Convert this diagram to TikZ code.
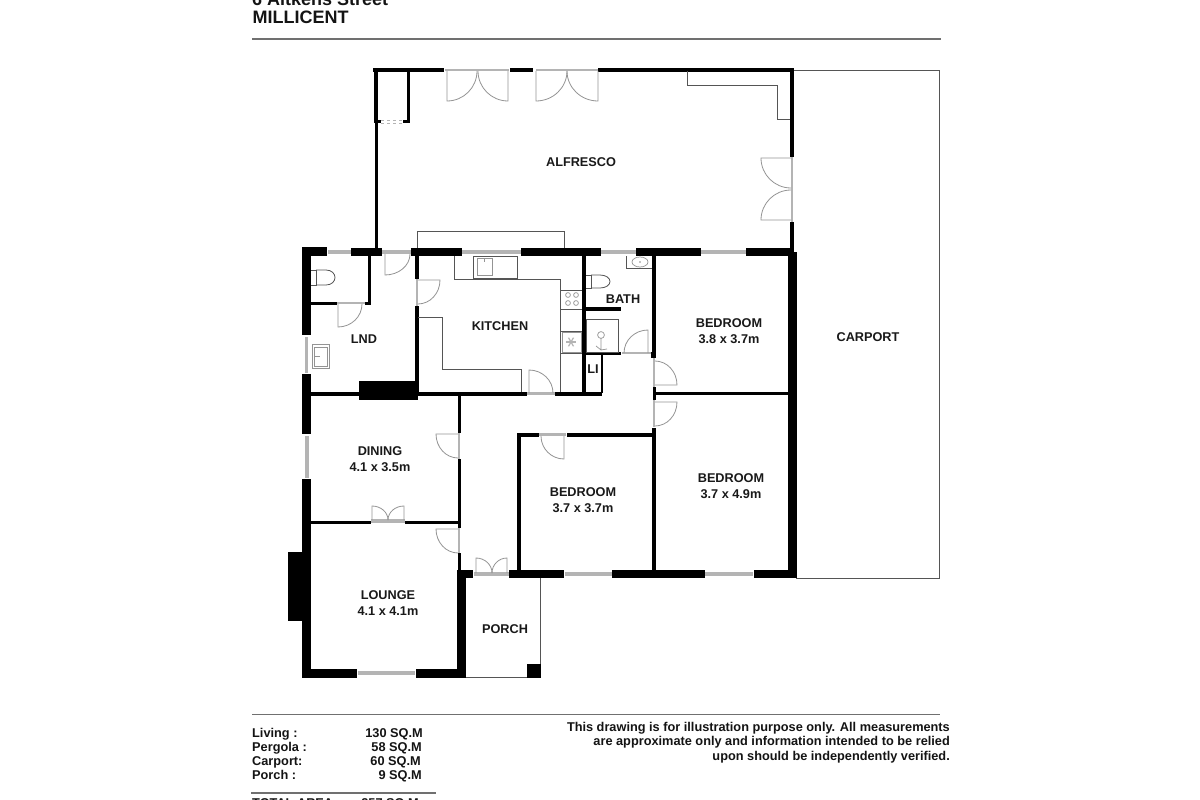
\documentclass[tikz,border=0pt]{standalone}
\usepackage{fontspec}
\setmainfont{Liberation Sans}
\newcommand{\wallbox}[4]{\fill[black] (#1,#2) rectangle (#3,#4);}
\newcommand{\glassbox}[4]{\fill[glasscol] (#1,#2) rectangle (#3,#4);}
% door swing: hinge, open end of leaf, closed end on the wall
\newcommand{\doorswing}[6]{%
  \pgfmathsetmacro{\cax}{#3+0.5523*(#5-#1)}%
  \pgfmathsetmacro{\cay}{#4+0.5523*(#6-#2)}%
  \pgfmathsetmacro{\cbx}{#5+0.5523*(#3-#1)}%
  \pgfmathsetmacro{\cby}{#6+0.5523*(#4-#2)}%
  \draw[doorleaf] (#1,#2) -- (#3,#4) .. controls (\cax,\cay) and (\cbx,\cby) .. (#5,#6);}
\definecolor{glasscol}{HTML}{B4B4B4}
\definecolor{thincol}{HTML}{555555}
\definecolor{doorcol}{HTML}{949494}
\definecolor{rulecol}{HTML}{707070}
\tikzset{
  fixture/.style={draw=thincol,line width=.8pt},
  doorleaf/.style={draw=doorcol,line width=.8pt},
  fitting/.style={draw=doorcol,line width=.7pt},
  lbl/.style={font=\bfseries\fontsize{12.7}{16}\selectfont,align=center,inner sep=0pt,text=black!90},
  foot/.style={font=\bfseries\fontsize{12.75}{14}\selectfont,inner sep=0pt,text=black!92},
  rulerline/.style={draw=rulecol,line width=1.2pt}
}
\begin{document}
\begin{tikzpicture}[x=1pt,y=-1pt]
\clip (0,0) rectangle (1200,800);
\fill[white] (0,0) rectangle (1200,800);
% header
\node[foot,anchor=base west,font=\bfseries\fontsize{18}{20}\selectfont] (addr) at (252,5.5) {6 Aitkens Street};
\node[foot,anchor=base west,font=\bfseries\fontsize{18}{20}\selectfont] (town) at (252.5,23.7) {MILLICENT};
\draw[rulerline] (252,39) -- (941,39);
% carport
\draw[fixture] (794,70) -- (939,70) -- (939,578) -- (796,578);
% porch
\draw[fixture] (466,677.5) -- (540,677.5) -- (540,578);
\wallbox{527}{664}{541}{678}
% alfresco walls
\wallbox{374}{68}{378}{123}
\wallbox{375}{120}{378}{248}
\wallbox{373}{68}{444}{72}
\wallbox{407}{70}{410}{123}
\wallbox{403}{120}{410}{123}
\wallbox{378}{120}{381}{123}
\draw[glasscol,line width=.7pt,dashed] (381,120.5) -- (403,120.5) (381,123) -- (403,123);
\wallbox{510}{68}{533}{72}
\wallbox{598}{68}{794}{72}
\wallbox{790}{68}{794}{157}
\wallbox{790}{222}{794}{252}
% top french doors
\glassbox{445}{69}{509}{71}
\glassbox{536}{69}{598}{71}
\doorswing{447}{71}{447}{101}{477}{71}
\doorswing{508}{71}{508}{101}{478}{71}
\doorswing{536}{71}{536}{101}{567}{71}
\doorswing{598}{71}{598}{101}{567}{71}
% right french doors
\glassbox{791}{157}{793}{222}
\doorswing{791}{158}{761}{158}{791}{188}
\doorswing{791}{220}{761}{220}{791}{190}
% counter alfresco corner
\draw[fixture] (687,71) -- (687,85) -- (777,85) -- (777,119) -- (790,119);
% bench above kitchen
\draw[fixture] (417,248) -- (417,231) -- (564,231) -- (564,248);
% north wall of house
\wallbox{302}{247}{327}{256}
\wallbox{351}{248}{382}{256}
\wallbox{411}{248}{462}{256}
\wallbox{521}{248}{601}{256}
\wallbox{636}{248}{701}{256}
\wallbox{746}{248}{792}{256}
\glassbox{328}{250}{351}{254}
\glassbox{382}{250}{411}{254}
\glassbox{462}{250}{521}{254}
\glassbox{601}{250}{636}{254}
\glassbox{701}{250}{746}{254}
% west wall
\wallbox{302}{247}{311}{335}
\wallbox{302}{374}{311}{434}
\wallbox{302}{479}{311}{678}
\wallbox{288}{552}{303}{621}
\glassbox{305}{337}{308}{373}
\glassbox{305}{436}{309}{478}
% east wall
\wallbox{788}{252}{797}{578}
% south walls
\wallbox{303}{669}{357}{678}
\wallbox{416}{669}{466}{678}
\glassbox{358}{671}{415}{675}
\wallbox{457}{570}{466}{678}
\wallbox{457}{570}{473}{578}
\wallbox{509}{570}{564}{578}
\wallbox{612}{570}{705}{578}
\wallbox{754}{570}{797}{578}
\glassbox{565}{572}{612}{576}
\glassbox{705}{572}{753}{576}
% WC
\wallbox{368}{256}{371}{305}
\wallbox{311}{302}{337}{305}
\wallbox{365}{302}{371}{305}
\glassbox{337}{302}{365}{304}
\doorswing{338}{304}{338}{327}{362}{304}
\doorswing{385}{254}{385}{275}{410}{254}
% kitchen west wall
\wallbox{415}{256}{419}{279}
\wallbox{415}{306}{419}{395}
\glassbox{416}{279}{418}{306}
\doorswing{418}{280}{440}{280}{418}{304}
% chimney LND
\wallbox{359}{381}{418}{400}
\wallbox{311}{392}{359}{395.5}
\wallbox{418}{392}{527}{395.5}
\wallbox{555}{392}{602}{395.5}
\glassbox{527}{392}{555}{395}
\doorswing{529}{393}{529}{370}{553}{393}
% kitchen fixtures
\draw[fixture] (454,256) -- (454,279) -- (560,279) -- (560,392);
\draw[fixture] (418,317) -- (442,317) -- (442,369) -- (521,369) -- (521,392);
\draw[fixture,fill=white] (473,256) rectangle (517,278);
\draw[fitting] (477,258) rectangle (492,275);
\draw[fitting] (484,258) -- (484,262);
\draw[fixture] (560,290) -- (582,290) (560,309) -- (582,309) (560,331) -- (582,331) (560,353) -- (582,353);
\foreach \px/\py in {568/295,576/295,568/303,576/303}
  \draw[fitting] (\px,\py) circle[radius=2.4];
\draw[fitting] (562,332) rectangle (581,352);
\foreach \ang in {0,60,...,300}
  \draw[glasscol,line width=1.2pt] (571,342) -- ++(\ang:5);
% bath walls
\wallbox{582}{256}{586}{393}
\wallbox{586}{307}{621}{311}
\wallbox{586}{352}{621}{355}
\wallbox{601}{355}{603}{393}
\wallbox{652}{256}{656}{358}
\wallbox{651}{352}{656}{358}
\glassbox{622}{352}{651}{354}
\doorswing{648}{353}{648}{330}{624}{353}
\draw[fixture] (626,256) -- (626,268) -- (652,268);
\draw[fitting] (640,262) ellipse[x radius=8,y radius=5];
\fill[black] (640,262) circle[radius=.7];
\draw[fixture] (586,319) rectangle (618,352);
\draw[fitting] (601,335) circle[radius=3.4];
\draw[fitting] (601,338) -- (601,350) (601,350) -- (596,346) (601,350) -- (607,349);
% toilets
\draw[doorleaf,draw=thincol] (586,275) -- (591,275) -- (591,288) -- (586,288);
\draw[doorleaf,draw=thincol] (591,275) -- (600,275) .. controls (606,275) and (610,278) .. (610,281.5) .. controls (610,285) and (606,288) .. (600,288) -- (591,288);
\draw[doorleaf,draw=thincol] (311,270) -- (316,270) -- (316,285) -- (311,285);
\draw[doorleaf,draw=thincol] (316,270) -- (326,270) .. controls (332,270) and (335,274) .. (335,277.5) .. controls (335,281) and (332,285) .. (326,285) -- (316,285);
% laundry tub
\draw[fitting] (312,344) rectangle (329,368);
\draw[fitting] (314,347) rectangle (327,366);
\fill[doorcol] (314,356) rectangle (320,357);
% inner partitions
\wallbox{457.5}{395}{460.5}{433}
\wallbox{457.5}{459}{460.5}{528}
\wallbox{457.5}{553}{460.5}{570}
\wallbox{311}{520.5}{371}{523.5}
\wallbox{405}{520.5}{458}{523.5}
\wallbox{517}{433}{521}{570}
\wallbox{517}{433}{539}{437}
\wallbox{567}{433}{656}{437}
\wallbox{652}{428}{656}{570}
\wallbox{656}{392}{788}{395}
\wallbox{653}{387}{656}{400}
\glassbox{458}{433}{460}{459}
\glassbox{458}{528}{460}{553}
\glassbox{371}{519}{405}{523}
\glassbox{474}{572}{509}{576}
\glassbox{539}{433}{566}{436}
\glassbox{653}{358}{655}{387}
\glassbox{653}{400}{655}{427}
% doors
\doorswing{458}{434}{436}{434}{458}{458}
\doorswing{458}{529}{436}{529}{458}{553}
\doorswing{372}{520}{372}{506}{388}{520}
\doorswing{404}{520}{404}{506}{388}{520}
\doorswing{476}{573}{476}{558}{492}{573}
\doorswing{507}{573}{507}{558}{492}{573}
\doorswing{564}{436}{564}{459}{541}{436}
\doorswing{655}{402}{677}{402}{655}{426}
\doorswing{655}{385}{677}{385}{655}{361}
% labels
\node[lbl] (alf) at (581,162.5) {ALFRESCO};
\node[lbl] (car) at (868,337.5) {CARPORT};
\node[lbl] (kit) at (500,326.5) {KITCHEN};
\node[lbl] (lnd) at (364,339.5) {LND};
\node[lbl] (bath) at (623,299.5) {BATH};
\node[lbl] (li) at (593,369) {LI};
\node[lbl] (bed1) at (729,331) {BEDROOM\\3.8 x 3.7m};
\node[lbl] (bed2) at (731,486) {BEDROOM\\3.7 x 4.9m};
\node[lbl] (bed3) at (583,500) {BEDROOM\\3.7 x 3.7m};
\node[lbl] (din) at (380,459) {DINING\\4.1 x 3.5m};
\node[lbl] (lou) at (388,603) {LOUNGE\\4.1 x 4.1m};
\node[lbl] (por) at (505,629) {PORCH};
% footer
\draw[rulerline] (252,714.5) -- (940,714.5);
\node[foot,anchor=base west] (fa) at (252,737) {Living :};
\node[foot,anchor=base west] (fb) at (252,751) {Pergola :};
\node[foot,anchor=base west] (fc) at (252,765) {Carport:};
\node[foot,anchor=base west] (fd) at (252,779) {Porch :};
\node[foot,anchor=base east] (va) at (423,737) {130 SQ.M};
\node[foot,anchor=base east] (vb) at (422,751) {58 SQ.M};
\node[foot,anchor=base east] (vc) at (421,765) {60 SQ.M};
\node[foot,anchor=base east] (vd) at (422,779) {9 SQ.M};
\draw[rulerline] (251,793) -- (436,793);
\node[foot,anchor=base west] (ft) at (252,807) {TOTAL AREA :};
\node[foot,anchor=base east] (vt) at (419,807) {257 SQ.M};
\node[foot,anchor=base east] (d1) at (950,731) {This drawing is for illustration purpose only. All measurements};
\node[foot,anchor=base east] (d2) at (950,745.5) {are approximate only and information intended to be relied};
\node[foot,anchor=base east] (d3) at (950,760) {upon should be independently verified.};
\end{tikzpicture}
\end{document}
